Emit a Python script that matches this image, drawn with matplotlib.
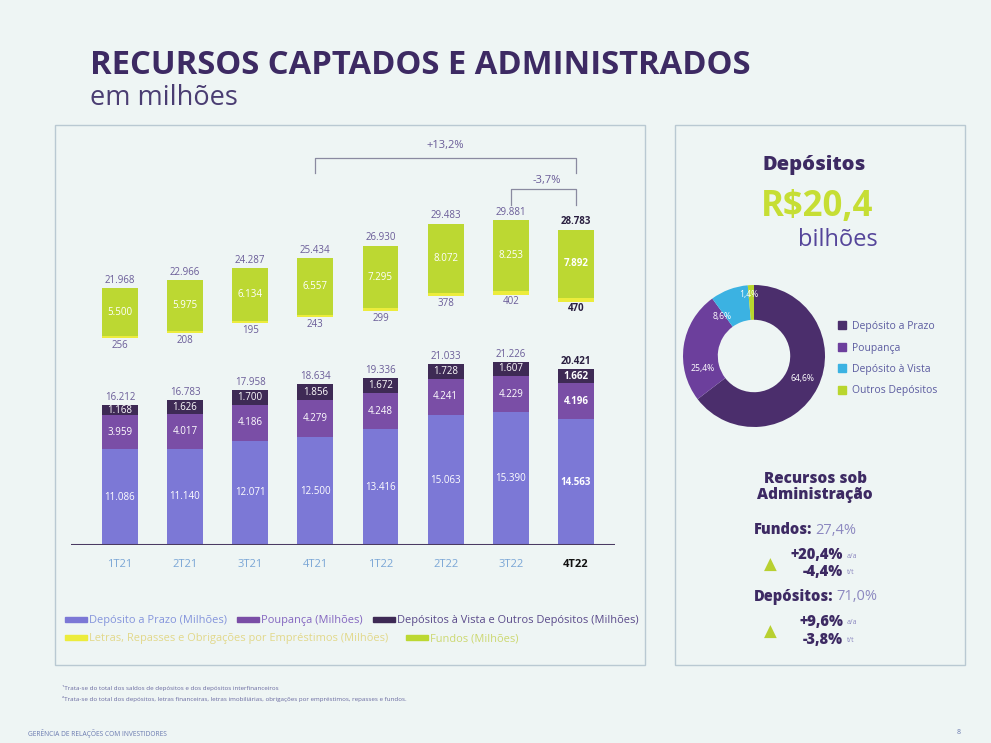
import matplotlib
matplotlib.use("Agg")
import matplotlib.pyplot as plt
from matplotlib.patches import Rectangle, Patch

plt.rcParams['font.family'] = ['Open Sans', 'DejaVu Sans']

quarters = ['1T21', '2T21', '3T21', '4T21', '1T22', '2T22', '3T22', '4T22']
dep_prazo = [11086, 11140, 12071, 12500, 13416, 15063, 15390, 14563]
poupanca = [3959, 4017, 4186, 4279, 4248, 4241, 4229, 4196]
vista_outros = [1168, 1626, 1700, 1856, 1672, 1728, 1607, 1662]
dep_total = [16212, 16783, 17958, 18634, 19336, 21033, 21226, 20421]
letras = [256, 208, 195, 243, 299, 378, 402, 470]
fundos = [5500, 5975, 6134, 6557, 7295, 8072, 8253, 7892]
recursos_total = [21968, 22966, 24287, 25434, 26930, 29483, 29881, 28783]

donut_labels = ['Depósito a Prazo', 'Poupança', 'Depósito à Vista', 'Outros Depósitos']
donut_pct = [64.6, 25.4, 8.6, 1.4]

BG = '#eef5f4'
PURPLE = '#3d2a63'
C_PRAZO = '#7c78d6'
C_POUP = '#7a4ea6'
C_VISTA = '#3e2a55'
C_LETRAS = '#ecec3c'
C_FUNDOS = '#bcd832'
LBL = '#6a5c98'

W, H = 991, 743
def fx(x):
    return x / W
def fy(y):
    return 1 - y / H

def fmt(v):
    return f"{v:,}".replace(',', '.')

fig = plt.figure(figsize=(9.91, 7.43), dpi=100, facecolor=BG)

# panel frames
for (x0, x1) in [(55, 645), (675, 965)]:
    fig.patches.append(Rectangle((fx(x0), fy(665)), fx(x1) - fx(x0), fy(125) - fy(665),
                                 transform=fig.transFigure, fill=False,
                                 edgecolor='#b9c9d2', linewidth=1.0))

fig.text(fx(90), fy(65), 'RECURSOS CAPTADOS E ADMINISTRADOS', fontsize=23.6,
         fontweight='bold', color=PURPLE, va='center')
fig.text(fx(90), fy(98), 'em milhões', fontsize=19.5, color='#4a3d72', va='center')

# bar chart
ax = fig.add_axes([fx(71), fy(545), fx(615) - fx(71), fy(140) - fy(545)])
ax.set_facecolor('none')
x = list(range(len(quarters)))
bw = 0.55
gap = 7800

ax.bar(x, dep_prazo, bw, color=C_PRAZO)
ax.bar(x, poupanca, bw, bottom=dep_prazo, color=C_POUP)
bot3 = [a + b for a, b in zip(dep_prazo, poupanca)]
ax.bar(x, vista_outros, bw, bottom=bot3, color=C_VISTA)

up_bot = [d + gap for d in dep_total]
ax.bar(x, letras, bw, bottom=up_bot, color=C_LETRAS)
f_bot = [u + l for u, l in zip(up_bot, letras)]
ax.bar(x, fundos, bw, bottom=f_bot, color=C_FUNDOS)

for i in x:
    last = i == len(x) - 1
    wt = 'bold' if last else 'normal'
    dark = '#2a1f40' if last else LBL
    ax.text(i, dep_prazo[i] / 2, fmt(dep_prazo[i]), ha='center', va='center',
            color='white', fontsize=7, fontweight=wt)
    ax.text(i, dep_prazo[i] + poupanca[i] / 2, fmt(poupanca[i]), ha='center', va='center',
            color='white', fontsize=7, fontweight=wt)
    ax.text(i, bot3[i] + vista_outros[i] / 2, fmt(vista_outros[i]), ha='center', va='center',
            color='white', fontsize=7, fontweight=wt)
    ax.text(i, dep_total[i] + 250, fmt(dep_total[i]), ha='center', va='bottom',
            color=dark, fontsize=7, fontweight=wt)
    ax.text(i, f_bot[i] + fundos[i] / 2, fmt(fundos[i]), ha='center', va='center',
            color='white', fontsize=7, fontweight=wt)
    ax.text(i, up_bot[i] - 200, fmt(letras[i]), ha='center', va='top',
            color=dark, fontsize=7, fontweight=wt)
    ax.text(i, f_bot[i] + fundos[i] + 250, fmt(recursos_total[i]), ha='center', va='bottom',
            color=dark, fontsize=7, fontweight=wt)

ax.axhline(0, color='#4a3a62', linewidth=2.2)
ax.set_xlim(-0.75, 7.6)
ax.set_ylim(0, 405 * 116)
ax.set_xticks(x)
ax.set_xticklabels(quarters)
for t in ax.get_xticklabels():
    t.set_fontsize(8)
    t.set_color('#7aa6d6')
ax.get_xticklabels()[-1].set_color('#111111')
ax.get_xticklabels()[-1].set_fontweight('bold')
ax.tick_params(axis='x', length=0, pad=10)
ax.set_yticks([])
for s in ax.spines.values():
    s.set_visible(False)

# growth brackets
bc = '#8a8aa0'
ax.plot([3, 3, 7, 7], [43150, 44900, 44900, 43150], color=bc, linewidth=0.9)
ax.text(5, 46300, '+13,2%', ha='center', va='center', fontsize=8, color=LBL)
ax.plot([6, 6, 7, 7], [39440, 41300, 41300, 39440], color=bc, linewidth=0.9)
ax.text(6.55, 42250, '-3,7%', ha='center', va='center', fontsize=8, color=LBL)

# legends
h1 = [Patch(color=C_PRAZO), Patch(color=C_POUP), Patch(color=C_VISTA)]
l1 = ['Depósito a Prazo (Milhões)', 'Poupança (Milhões)',
      'Depósitos à Vista e Outros Depósitos (Milhões)']
fig.legend(h1, l1, loc='center left', bbox_to_anchor=(fx(62), fy(621)), ncol=3,
           frameon=False, fontsize=7.9, handlelength=2.0, handleheight=0.4,
           columnspacing=0.9, handletextpad=0.2, borderaxespad=0, borderpad=0.3,
           labelcolor=['#8494dc', '#8466c0', '#5a4a8a'])
h2 = [Patch(color=C_LETRAS), Patch(color=C_FUNDOS)]
l2 = ['Letras, Repasses e Obrigações por Empréstimos (Milhões)', 'Fundos (Milhões)']
fig.legend(h2, l2, loc='center left', bbox_to_anchor=(fx(62), fy(639)), ncol=2,
           frameon=False, fontsize=7.9, handlelength=2.0, handleheight=0.4,
           columnspacing=1.6, handletextpad=0.2, borderaxespad=0, borderpad=0.3,
           labelcolor=['#e2d88a', '#ccd870'])

fig.text(fx(62), fy(688), '¹Trata-se do total dos saldos de depósitos e dos depósitos interfinanceiros',
         fontsize=4.5, color='#6a6aa0', va='center')
fig.text(fx(62), fy(699), '²Trata-se do total dos depósitos, letras financeiras, letras imobiliárias, '
         'obrigações por empréstimos, repasses e fundos.', fontsize=4.5, color='#6a6aa0', va='center')
fig.text(fx(28), fy(733), 'GERÊNCIA DE RELAÇÕES COM INVESTIDORES', fontsize=4.8,
         color='#6a7ab0', va='center')
fig.text(fx(957), fy(733), '8', fontsize=5, color='#6a7ab0', va='center')

# right panel
fig.text(fx(814), fy(165), 'Depósitos', fontsize=14.5, fontweight='heavy', color=PURPLE,
         ha='center', va='center')
fig.text(fx(817), fy(207), 'R$20,4', fontsize=25, fontweight='bold', color='#c6de34',
         ha='center', va='center')
fig.text(fx(838), fy(240), 'bilhões', fontsize=17, color='#55459a', ha='center', va='center')

axd = fig.add_axes([fx(683), fy(427), fx(825) - fx(683), fy(285) - fy(427)])
dcolors = ['#4b2e6c', '#6c3f9c', '#3bb2e2', '#b9d62e']
axd.pie(donut_pct, colors=dcolors, startangle=90, counterclock=False,
        wedgeprops=dict(width=0.49, linewidth=0))
axd.set_xlim(-1, 1)
axd.set_ylim(-1, 1)
axd.set_aspect('equal')
donut_txt_pos = [(0.68, -0.31), (-0.73, -0.17), (-0.45, 0.55), (-0.07, 0.87)]
for (px, py), p in zip(donut_txt_pos, donut_pct):
    axd.text(px, py, f"{p:.1f}%".replace('.', ','), ha='center', va='center',
             color='white', fontsize=6.2)

fig.legend([Patch(color=c) for c in dcolors], donut_labels, loc='upper left',
           bbox_to_anchor=(fx(836), fy(319)), frameon=False, fontsize=7.5,
           handlelength=0.8, handleheight=0.8, labelspacing=1.0, handletextpad=0.5,
           borderaxespad=0, borderpad=0.2, labelcolor='#5c5ca0')

fig.text(fx(815), fy(487), 'Recursos sob\nAdministração', fontsize=11, fontweight='heavy',
         color=PURPLE, ha='center', va='center', linespacing=1.0)

light = '#8c88c0'
fig.text(fx(812), fy(530), 'Fundos:', fontsize=10.5, fontweight='heavy', color=PURPLE,
         ha='right', va='center')
fig.text(fx(815), fy(530), '27,4%', fontsize=10.5, color=light, ha='left', va='center')
fig.text(fx(843), fy(555), '+20,4%', fontsize=10.5, fontweight='heavy', color=PURPLE,
         ha='right', va='center')
fig.text(fx(847), fy(556), 'a/a', fontsize=5, color=light, ha='left', va='center')
fig.text(fx(843), fy(572), '-4,4%', fontsize=10.5, fontweight='heavy', color=PURPLE,
         ha='right', va='center')
fig.text(fx(847), fy(573), 't/t', fontsize=5, color=light, ha='left', va='center')

fig.text(fx(833), fy(597), 'Depósitos:', fontsize=10.5, fontweight='heavy', color=PURPLE,
         ha='right', va='center')
fig.text(fx(836), fy(597), '71,0%', fontsize=10.5, color=light, ha='left', va='center')
fig.text(fx(843), fy(622), '+9,6%', fontsize=10.5, fontweight='heavy', color=PURPLE,
         ha='right', va='center')
fig.text(fx(847), fy(623), 'a/a', fontsize=5, color=light, ha='left', va='center')
fig.text(fx(843), fy(640), '-3,8%', fontsize=10.5, fontweight='heavy', color=PURPLE,
         ha='right', va='center')
fig.text(fx(847), fy(641), 't/t', fontsize=5, color=light, ha='left', va='center')

for ty in (565, 632):
    fig.text(fx(770), fy(ty), '▲', fontsize=12, color='#b8d030', ha='center', va='center',
             family='DejaVu Sans')

fig.savefig('out.png', dpi=100, facecolor=BG)
